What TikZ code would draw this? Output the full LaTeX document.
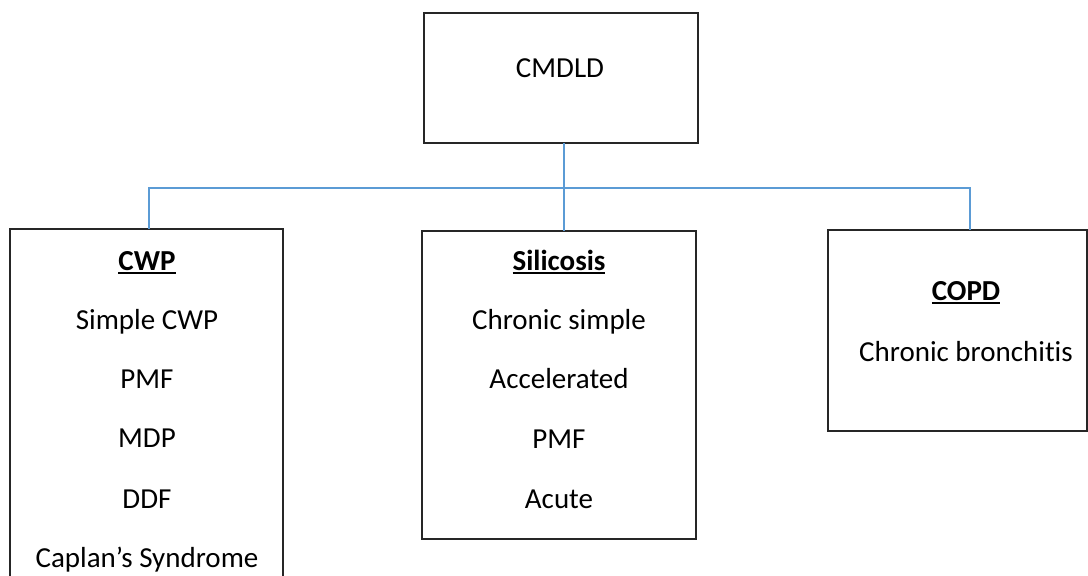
\documentclass[tikz,border=0pt]{standalone}
\usepackage{fontspec}
\setmainfont{Carlito}[Ligatures={TeX,CommonOff}]
\newcommand\myul[1]{\leavevmode\setbox0=\hbox{#1}\copy0\llap{\rule[-3.6pt]{\wd0}{1.8pt}}}
\definecolor{connblue}{HTML}{5B9BD5}
\begin{document}
\begin{tikzpicture}[x=1pt,y=-1pt,
  box/.style={draw=black!85, line width=1.4pt, inner sep=0pt, outer sep=0pt},
  lbl/.style={anchor=base, inner sep=0pt, font=\fontsize{29}{35}\selectfont},
  conn/.style={draw=connblue, line width=1.4pt}]
\useasboundingbox (0,0) rectangle (1088,576);
\clip (0,0) rectangle (1088,576);
% boxes
\node[box, minimum width=274pt, minimum height=130pt] (cmdld) at (561,78) {};
\node[box, minimum width=273pt, minimum height=380pt] (cwp) at (146.5,419) {};
\node[box, minimum width=274pt, minimum height=308pt] (sil) at (559,385) {};
\node[box, minimum width=259pt, minimum height=201pt] (copd) at (957.5,330.5) {};
% texts
\node[lbl] (t0) at (560,77) {CMDLD};
\node[lbl] (c1) at (147,270) {\myul{\textbf{CWP}}};
\node[lbl] (c2) at (147,329) {Simple CWP};
\node[lbl] (c3) at (147,388) {PMF};
\node[lbl] (c4) at (147,447) {MDP};
\node[lbl] (c5) at (147,508) {DDF};
\node[lbl] (c6) at (147,567) {Caplan’s Syndrome};
\node[lbl] (s1) at (559,270) {\myul{\textbf{Silicosis}}};
\node[lbl] (s2) at (559,329) {Chronic simple};
\node[lbl] (s3) at (559,388) {Accelerated};
\node[lbl] (s4) at (559,448) {PMF};
\node[lbl] (s5) at (559,508) {Acute};
\node[lbl] (p1) at (966,300) {\myul{\textbf{COPD}}};
\node[lbl] (p2) at (966,361) {Chronic bronchitis};
% connectors
\coordinate (j) at (564,188);
\coordinate (bl) at (149,188);
\coordinate (br) at (970,188);
\draw[conn] (cmdld.south -| j) -- (sil.north -| j);
\draw[conn] (cwp.north -| bl) -- (bl) -- (br) -- (copd.north -| br);
\end{tikzpicture}
\end{document}
